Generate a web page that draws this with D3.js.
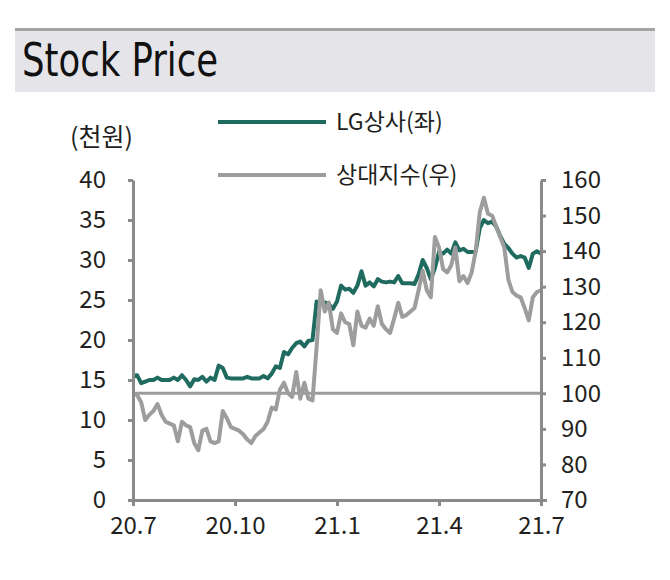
<!DOCTYPE html>
<html><head><meta charset="utf-8">
<script src="https://cdn.jsdelivr.net/npm/d3@7"></script>
<style>
body{margin:0;background:#fff;}
svg{display:block;}
text{font-family:"Noto Sans CJK KR","Noto Sans",sans-serif;fill:#231f20;}
</style></head>
<body><svg id="c" width="670" height="580"></svg>
<script>
const title = "Stock Price";
const unitLabel = "(천원)";
const seriesNames = ["LG상사(좌)", "상대지수(우)"];
const xTickMonths = [0, 3, 6, 9, 12];
const xTickLabels = ["20.7", "20.10", "21.1", "21.4", "21.7"];
const leftTicks = [0, 5, 10, 15, 20, 25, 30, 35, 40];
const rightTicks = [70, 80, 90, 100, 110, 120, 130, 140, 150, 160];
const baseLine = 100;

// LG상사 (천원), roughly every 1.2 weeks from 2020.7 to 2021.7
const lgPrice = [15.5,15.6,14.6,14.8,15.0,15.0,15.3,15.0,15.0,15.0,
 15.3,15.0,15.6,15.0,14.2,15.1,15.0,15.4,14.8,15.3,
 15.0,16.8,16.5,15.3,15.2,15.2,15.2,15.2,15.4,15.2,
 15.2,15.2,15.5,15.2,15.8,16.7,16.5,18.5,18.2,19.0,
 19.6,19.8,19.2,19.9,20.0,24.8,24.6,24.7,24.5,23.9,
 24.8,26.8,26.3,26.4,25.9,26.8,28.6,26.8,27.2,26.7,
 27.6,27.3,27.2,27.3,27.2,28.0,27.1,27.1,27.1,27.0,
 28.2,30.0,29.0,27.6,29.0,31.0,30.8,31.3,30.8,32.2,
 31.2,31.4,31.0,31.0,31.1,34.0,35.0,34.6,34.8,34.2,
 33.0,32.0,31.5,30.8,30.3,30.5,30.3,29.0,30.8,31.1,30.8];

// 상대지수 (right axis)
const relIndex = [100,99.5,97.5,92.5,94.0,95.0,97.0,94.0,92.0,91.5,
 91.0,86.5,92.0,91.0,90.5,86.0,84.0,89.5,90.0,86.5,
 86.0,86.5,95.0,93.0,90.5,90.0,89.5,88.5,87.0,86.0,
 88.0,89.0,90.0,92.0,96.0,95.5,101.0,103.0,100.0,99.0,
 106.0,98.5,103.0,98.5,98.0,113.0,129.0,123.0,125.5,118.0,
 117.0,122.5,120.0,119.5,113.5,123.0,119.0,118.5,121.0,119.0,
 124.5,119.5,118.0,117.0,121.0,125.5,121.5,122.0,123.0,124.0,
 129.0,134.5,129.0,127.0,144.0,141.0,135.0,134.0,136.0,141.0,
 131.5,133.0,131.0,134.0,140.0,151.0,155.0,150.5,150.0,147.0,
 144.0,141.0,132.0,128.5,127.5,127.0,124.0,120.5,127.0,128.5,129.0];

const colGreen = "#1f6b5f", colGray = "#9d9d9d", colAxis = "#8a8a8a";

const svg = d3.select("#c");

// title band
svg.append("rect").attr("x",15).attr("y",29).attr("width",640).attr("height",63).attr("fill","#e5e5e9");
svg.append("rect").attr("x",15).attr("y",28).attr("width",640).attr("height",3).attr("fill","#a3a3a6");
svg.append("text").attr("x",22).attr("y",76).text(title)
  .attr("textLength",196).attr("lengthAdjust","spacingAndGlyphs")
  .style("font-family",'"Liberation Sans Narrow","DejaVu Sans Condensed",sans-serif')
  .style("font-size","46px").style("fill","#111");

const L = 133, R = 541, T = 180, B = 500;
const x = d3.scaleLinear().domain([0,12]).range([L,R]);
const yL = d3.scaleLinear().domain([0,40]).range([B,T]);
const yR = d3.scaleLinear().domain([70,160]).range([B,T]);
const n = lgPrice.length;
const xi = i => x(i*12/(n-1));

// baseline 100
svg.append("line").attr("x1",L).attr("x2",R).attr("y1",yR(baseLine)).attr("y2",yR(baseLine))
  .attr("stroke",colGray).attr("stroke-width",3);

// series
svg.append("path").datum(lgPrice)
  .attr("d", d3.line().x((d,i)=>xi(i)).y(d=>yL(d)).curve(d3.curveLinear))
  .attr("fill","none").attr("stroke",colGreen).attr("stroke-width",4).attr("stroke-linejoin","round");
svg.append("path").datum(relIndex)
  .attr("d", d3.line().x((d,i)=>xi(i)).y(d=>yR(d)))
  .attr("fill","none").attr("stroke",colGray).attr("stroke-width",4).attr("stroke-linejoin","round");

function styleAxis(g){
  g.select(".domain").attr("stroke",colAxis).attr("stroke-width",3);
  g.selectAll(".tick line").attr("stroke",colAxis).attr("stroke-width",3);
  g.selectAll(".tick text").style("font-size","24px").style("fill","#231f20")
   .style("font-family",'"Noto Sans CJK KR","Noto Sans",sans-serif');
}
const gl = svg.append("g").attr("transform",`translate(${L},0)`)
  .call(d3.axisLeft(yL).tickValues(leftTicks).tickSize(5).tickSizeOuter(0).tickPadding(22));
styleAxis(gl);
const gr = svg.append("g").attr("transform",`translate(${R},0)`)
  .call(d3.axisRight(yR).tickValues(rightTicks).tickSize(5).tickSizeOuter(0).tickPadding(15));
styleAxis(gr);
const gb = svg.append("g").attr("transform",`translate(0,${B})`)
  .call(d3.axisBottom(x).tickValues(xTickMonths).tickFormat((d,i)=>xTickLabels[i]).tickSize(6).tickSizeOuter(0).tickPadding(11));
styleAxis(gb);
gb.select(".domain").attr("d",`M${L-2},0.5H${R+6}`);

// unit
svg.append("text").attr("x",70).attr("y",146).text(unitLabel).style("font-size","25px");

// legend
const leg = [{c:colGreen,y:122},{c:colGray,y:175}];
leg.forEach((l,i)=>{
  svg.append("line").attr("x1",218).attr("x2",326).attr("y1",l.y).attr("y2",l.y)
    .attr("stroke",l.c).attr("stroke-width",4);
  svg.append("text").attr("x",336).attr("y",l.y+8).text(seriesNames[i]).style("font-size","23px");
});
</script></body></html>
